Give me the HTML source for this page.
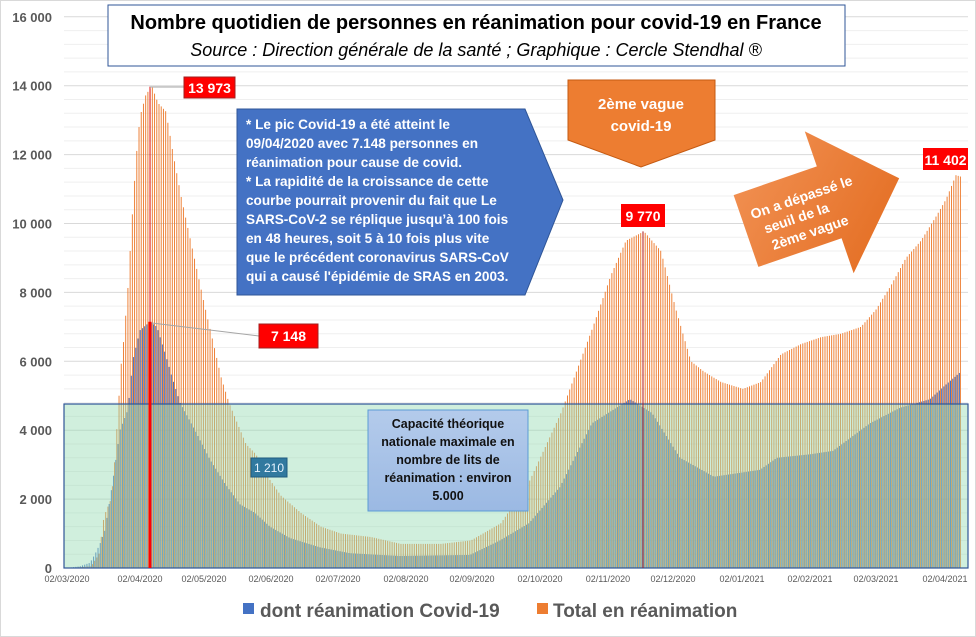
<!DOCTYPE html>
<html><head><meta charset="utf-8"><style>
body{margin:0;background:#fff;}
svg{display:block;font-family:"Liberation Sans",sans-serif;}
</style></head><body>
<svg id="s" width="976" height="637" viewBox="0 0 976 637" xmlns="http://www.w3.org/2000/svg">
<rect x="0.5" y="0.5" width="975" height="636" fill="#fff" stroke="#d9d9d9"/>
<g id="grid"></g>
<g id="bars"></g>
<rect x="64" y="404" width="904" height="164" fill="rgb(150,220,180)" fill-opacity="0.45" stroke="#2f5597" stroke-width="1.2"/>
<g id="marks"></g>
<g id="ylab" font-size="13" font-weight="bold" fill="#595959" text-anchor="end"></g>
<g id="xlab" font-size="9" fill="#595959" text-anchor="middle"></g>
<rect x="108" y="5" width="737" height="61" fill="#fff" stroke="#2f5597" stroke-width="1"/>
<text x="476" y="29" font-size="20" font-weight="bold" text-anchor="middle" fill="#000">Nombre quotidien de personnes en réanimation pour covid-19 en France</text>
<text x="476" y="56" font-size="18" font-style="italic" text-anchor="middle" fill="#000">Source : Direction générale de la santé ; Graphique  : Cercle Stendhal ®</text>
<line x1="150" y1="87" x2="184" y2="87" stroke="#a6a6a6"/>
<line x1="152" y1="323" x2="259" y2="336" stroke="#a6a6a6"/>
<rect x="184" y="77" width="51" height="21" fill="#ff0000" stroke="#a02020"/>
<text x="209.5" y="93" font-size="14" font-weight="bold" fill="#fff" text-anchor="middle">13 973</text>
<rect x="259" y="324" width="59" height="24" fill="#ff0000" stroke="#a02020"/>
<text x="288.5" y="341" font-size="14" font-weight="bold" fill="#fff" text-anchor="middle">7 148</text>
<rect x="621" y="204" width="44" height="23" fill="#ff0000"/>
<text x="643" y="221" font-size="14" font-weight="bold" fill="#fff" text-anchor="middle">9 770</text>
<rect x="923" y="148" width="45" height="22" fill="#ff0000"/>
<text x="945.5" y="165" font-size="14" font-weight="bold" fill="#fff" text-anchor="middle">11 402</text>
<rect x="251" y="458" width="36" height="19" fill="#31799f" stroke="#1f5c80"/>
<text x="269" y="472" font-size="12" fill="#e8f4ff" text-anchor="middle">1 210</text>
<polygon points="237,109 525,109 563,200 525,295 237,295" fill="#4472c4" stroke="#2f5597"/>
<g font-size="13.6" font-weight="bold" fill="#fff">
<text x="246" y="129">* Le pic Covid-19 a été atteint le</text>
<text x="246" y="148">09/04/2020 avec 7.148 personnes en</text>
<text x="246" y="167">réanimation pour cause de covid.</text>
<text x="246" y="186">* La rapidité de la croissance de cette</text>
<text x="246" y="205">courbe pourrait provenir du fait que Le</text>
<text x="246" y="224">SARS-CoV-2 se réplique jusqu’à 100 fois</text>
<text x="246" y="243">en 48 heures, soit 5 à 10 fois plus vite</text>
<text x="246" y="262">que le précédent coronavirus SARS-CoV</text>
<text x="246" y="281">qui a causé l'épidémie de SRAS en 2003.</text>
</g>
<polygon points="568,80 715,80 715,140 641,167 568,140" fill="#ed7d31" stroke="#c55a11"/>
<text x="641" y="109" font-size="15" font-weight="bold" fill="#fff" text-anchor="middle">2ème vague</text>
<text x="641" y="131" font-size="15" font-weight="bold" fill="#fff" text-anchor="middle">covid-19</text>
<defs><linearGradient id="og" x1="0" y1="0" x2="1" y2="1"><stop offset="0" stop-color="#f29356"/><stop offset="1" stop-color="#e2691c"/></linearGradient></defs>
<g transform="translate(746,231) rotate(-19)">
<polygon points="0,-38 88,-38 88,-75 162,0 88,75 88,38 0,38" fill="url(#og)"/>
<g font-size="14" font-weight="bold" fill="#fff">
<text x="10" y="-9">On a dépassé le</text>
<text x="18" y="9">seuil de la</text>
<text x="20" y="27">2ème vague</text>
</g>
</g>
<defs><linearGradient id="bg" x1="0" y1="0" x2="0" y2="1"><stop offset="0" stop-color="#b4cbeb"/><stop offset="1" stop-color="#9bb9e3"/></linearGradient></defs>
<rect x="368" y="410" width="160" height="101" fill="url(#bg)" stroke="#5b9bd5"/>
<g font-size="12.5" font-weight="bold" fill="#111" text-anchor="middle">
<text x="448" y="428">Capacité théorique</text>
<text x="448" y="446">nationale maximale en</text>
<text x="448" y="464">nombre de lits de</text>
<text x="448" y="482">réanimation : environ</text>
<text x="448" y="500">5.000</text>
</g>
<rect x="243" y="603" width="11" height="11" fill="#4472c4"/>
<text x="260" y="617" font-size="19" font-weight="bold" fill="#595959">dont réanimation Covid-19</text>
<rect x="537" y="603" width="11" height="11" fill="#ed7d31"/>
<text x="553" y="617" font-size="19" font-weight="bold" fill="#595959">Total en réanimation</text>
</svg>
<script>
var NS="http://www.w3.org/2000/svg";
function el(p,t,a){var e=document.createElementNS(NS,t);for(var k in a)e.setAttribute(k,a[k]);document.getElementById(p).appendChild(e);return e;}
function Y(v){return 568-v*68.9/2000;}
for(var v=0;v<=16000;v+=400){var y=Y(v);el("grid","line",{x1:64,x2:968,y1:y,y2:y,stroke:(v%2000==0)?"#d9d9d9":"#efefef","stroke-width":1});}
for(var v=0;v<=16000;v+=2000){var t=el("ylab","text",{x:52,y:Y(v)+5});t.textContent=v==0?"0":(Math.floor(v/1000)+" 000");}
var xl=[["02/03/2020",67],["02/04/2020",140],["02/05/2020",204],["02/06/2020",271],["02/07/2020",338],["02/08/2020",406],["02/09/2020",472],["02/10/2020",540],["02/11/2020",608],["02/12/2020",673],["02/01/2021",742],["02/02/2021",810],["02/03/2021",876],["02/04/2021",945]];
xl.forEach(function(a){var t=el("xlab","text",{x:a[1],y:582});t.textContent=a[0];});
var O=[[67,0],[90,50],[98,400],[103,1500],[110,2000],[113,2800],[116,4100],[120,5850],[123,6700],[127,8150],[131,10100],[135,11850],[139,13100],[145,13750],[151,13973],[157,13500],[165,13250],[172,12050],[180,10800],[190,9450],[196,8650],[203,7700],[213,6450],[220,5550],[228,4800],[235,4300],[245,3600],[255,3300],[268,2600],[280,2100],[300,1600],[320,1200],[340,1000],[370,900],[400,700],[440,700],[470,800],[500,1300],[529,2550],[560,4500],[592,7000],[610,8500],[625,9500],[643,9770],[660,9200],[675,7500],[690,6000],[703,5700],[720,5400],[742,5200],[760,5400],[780,6200],[800,6500],[820,6700],[840,6800],[860,7000],[875,7500],[890,8200],[905,9000],[920,9500],[935,10200],[945,10700],[955,11402],[961,11350]];
var B=[[67,0],[80,50],[90,150],[95,400],[100,700],[105,1100],[113,2550],[120,4000],[128,4600],[133,6050],[140,6900],[150,7148],[157,7000],[165,6250],[172,5550],[180,4800],[195,4000],[210,3150],[225,2450],[240,1850],[255,1600],[270,1200],[290,870],[320,600],[350,430],[380,380],[400,350],[470,380],[500,800],[529,1300],[560,2350],[592,4200],[630,4900],[652,4500],[680,3200],[714,2650],[760,2850],[777,3200],[810,3300],[833,3400],[870,4200],[900,4650],[930,4900],[945,5300],[961,5700]];
function interp(P,x){if(x<=P[0][0])return P[0][1];for(var i=1;i<P.length;i++){if(x<=P[i][0]){var a=P[i-1],b=P[i];return a[1]+(b[1]-a[1])*(x-a[0])/(b[0]-a[0]);}}return P[P.length-1][1];}
for(var d=0;d<=402;d++){var x=67+d*2.22;var o=interp(O,x),b=interp(B,x);
 if(o>0)el("bars","rect",{x:(x+0.5).toFixed(2),y:Y(o).toFixed(2),width:0.95,height:(568-Y(o)).toFixed(2),fill:"#ed7d31"});
 if(b>0)el("bars","rect",{x:(x-0.55).toFixed(2),y:Y(b).toFixed(2),width:1.0,height:(568-Y(b)).toFixed(2),fill:"#4472c4"});}
el("marks","line",{x1:150,x2:150,y1:Y(13973),y2:568,stroke:"#e01010","stroke-width":1});
el("marks","line",{x1:150,x2:150,y1:Y(7148),y2:568,stroke:"#ff0000","stroke-width":3});
el("marks","line",{x1:643,x2:643,y1:Y(9770),y2:568,stroke:"#b01818","stroke-width":1});
</script>
</body></html>
